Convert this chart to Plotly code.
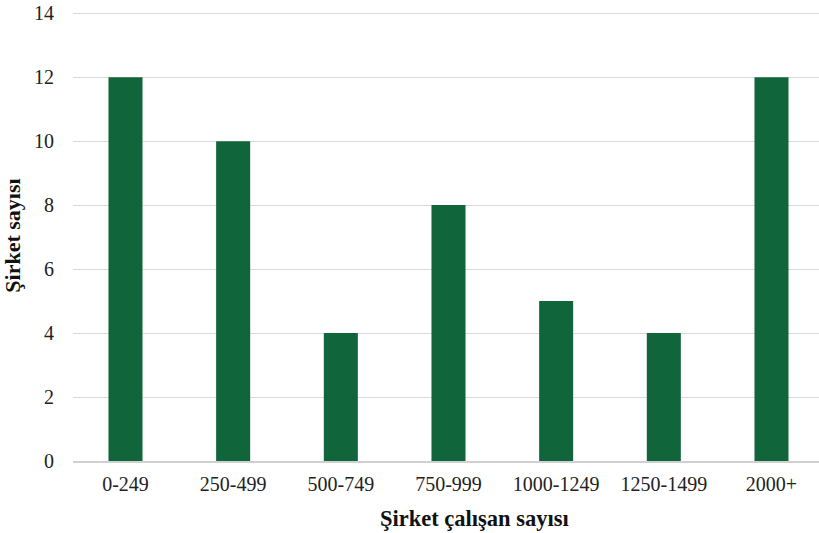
import plotly.graph_objects as go

categories = ["0-249", "250-499", "500-749", "750-999", "1000-1249", "1250-1499", "2000+"]
values = [12, 10, 4, 8, 5, 4, 12]
y_ticks = [0, 2, 4, 6, 8, 10, 12, 14]

fig = go.Figure(go.Bar(x=categories, y=values, width=0.316,
                       marker=dict(color="#10653a", line=dict(width=0))))

font = "Liberation Serif"
fig.update_layout(
    width=819, height=533,
    margin=dict(l=73, r=0, t=10, b=72),
    plot_bgcolor="white", paper_bgcolor="white",
    showlegend=False,
    font=dict(family=font, size=20, color="#222222"),
    annotations=[dict(
        text="<b>Şirket çalışan sayısı</b>", xref="paper", yref="paper",
        x=0.538, y=0, yshift=-57, xanchor="center", yanchor="middle", showarrow=False,
        font=dict(family=font, size=22.5, color="#111111"),
    )],
)
fig.update_xaxes(
    range=[-0.4875, 6.4413], automargin=False,
    showline=True, linecolor="#d0d0d0", linewidth=1.5,
    showgrid=False, ticks="", ticklabelstandoff=4,
    tickfont=dict(family=font, size=20, color="#222222"),
)
fig.update_yaxes(
    range=[0, 14.1], tickvals=y_ticks, ticklabeloverflow="allow", automargin=False,
    showgrid=True, gridcolor="#d9d9d9", gridwidth=1,
    zeroline=False, showline=False, ticks="", ticklabelstandoff=18,
    tickfont=dict(family=font, size=20, color="#222222"),
    title=dict(text="<b>Şirket sayısı</b>", font=dict(family=font, size=22, color="#111111"), standoff=22),
)
fig.write_html("out.html", config={"displayModeBar": False},
               post_script="document.body.style.margin='0px';")
